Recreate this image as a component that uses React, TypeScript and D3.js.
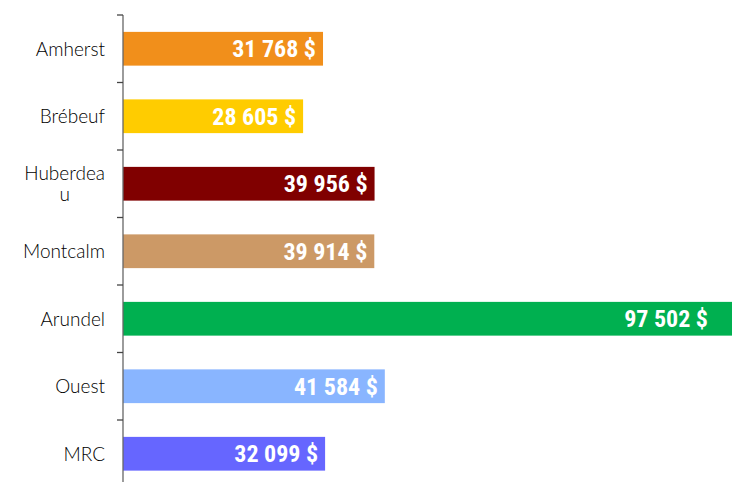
import React, { useEffect, useRef } from "react";
import * as d3 from "d3";

const categories = ["Amherst", "Brébeuf", "Huberdeau", "Montcalm", "Arundel", "Ouest", "MRC"];
const labelLines = [["Amherst"], ["Brébeuf"], ["Huberdea", "u"], ["Montcalm"], ["Arundel"], ["Ouest"], ["MRC"]];
const values = [31768, 28605, 39956, 39914, 97502, 41584, 32099];
const colors = ["#F18F1B", "#FFCC00", "#800000", "#CC9966", "#00B050", "#89B5FF", "#6666FF"];

const W = 732;
const H = 482;

function fmt(v: number) {
  return d3.format(",")(v).replace(/,/g, " ") + " $";
}

export default function App() {
  const ref = useRef<SVGSVGElement | null>(null);
  useEffect(() => {
    const svg = d3.select(ref.current);
    svg.selectAll("*").remove();
    const axisX = 123;
    const top = 15;
    const band = 67.5;
    const y = d3.scaleBand<string>().domain(categories).range([top, top + band * categories.length]).paddingInner(0.5).paddingOuter(0.25);
    const x = d3.scaleLinear().domain([0, 100000]).range([axisX, axisX + 629.6]);
    const plotRight = 715;

    svg.selectAll("rect.bar").data(values).enter().append("rect")
      .attr("x", x(0))
      .attr("y", (_, i) => y(categories[i])!)
      .attr("width", (d) => x(d) - x(0))
      .attr("height", y.bandwidth())
      .attr("fill", (_, i) => colors[i]);

    svg.selectAll("text.val").data(values).enter().append("text")
      .attr("x", (d) => Math.min(x(d), plotRight) - 7)
      .attr("y", (_, i) => y(categories[i])! + y.bandwidth() / 2)
      .attr("dy", "0.36em")
      .attr("text-anchor", "end")
      .attr("fill", "#fff")
      .attr("font-family", "'Liberation Sans Narrow', 'Arial Narrow', 'Roboto Condensed', sans-serif")
      .attr("font-stretch", "condensed")
      .attr("font-weight", "bold")
      .attr("font-size", 24)
      .text((d) => fmt(d));

    const y0 = top;
    const y1 = top + band * categories.length;
    svg.append("line").attr("x1", axisX).attr("x2", axisX).attr("y1", y0).attr("y2", y1).attr("stroke", "#666").attr("stroke-width", 1.3);
    d3.range(categories.length + 1).forEach((i) => {
      const ty = top + band * i;
      svg.append("line").attr("x1", axisX - 6).attr("x2", axisX).attr("y1", ty).attr("y2", ty).attr("stroke", "#444").attr("stroke-width", 1.3);
    });

    const labelRight = 105;
    labelLines.forEach((lines, i) => {
      const cy = y(categories[i])! + y.bandwidth() / 2;
      const lh = 21;
      const g = svg.append("text")
        .attr("font-family", "'URW Gothic', 'Century Gothic', 'Lato', sans-serif")
        .attr("font-size", 19)
        .attr("font-weight", 300)
        .attr("fill", "#000");
      if (lines.length === 1) {
        g.attr("text-anchor", "end").attr("x", labelRight).attr("y", cy).attr("dy", "0.36em").text(lines[0]);
      } else {
        const tmp = g.append("tspan").text(lines[0]);
        const w = (tmp.node() as SVGTextContentElement).getComputedTextLength();
        tmp.remove();
        const cx = labelRight - w / 2;
        g.attr("text-anchor", "middle");
        lines.forEach((ln, j) => {
          g.append("tspan").attr("x", cx).attr("y", cy + (j - (lines.length - 1) / 2) * lh).attr("dy", "0.36em").text(ln);
        });
      }
    });
  }, []);
  return (
    <svg ref={ref} width={W} height={H} style={{ position: "absolute", left: 0, top: 0, background: "#fff" }} />
  );
}
